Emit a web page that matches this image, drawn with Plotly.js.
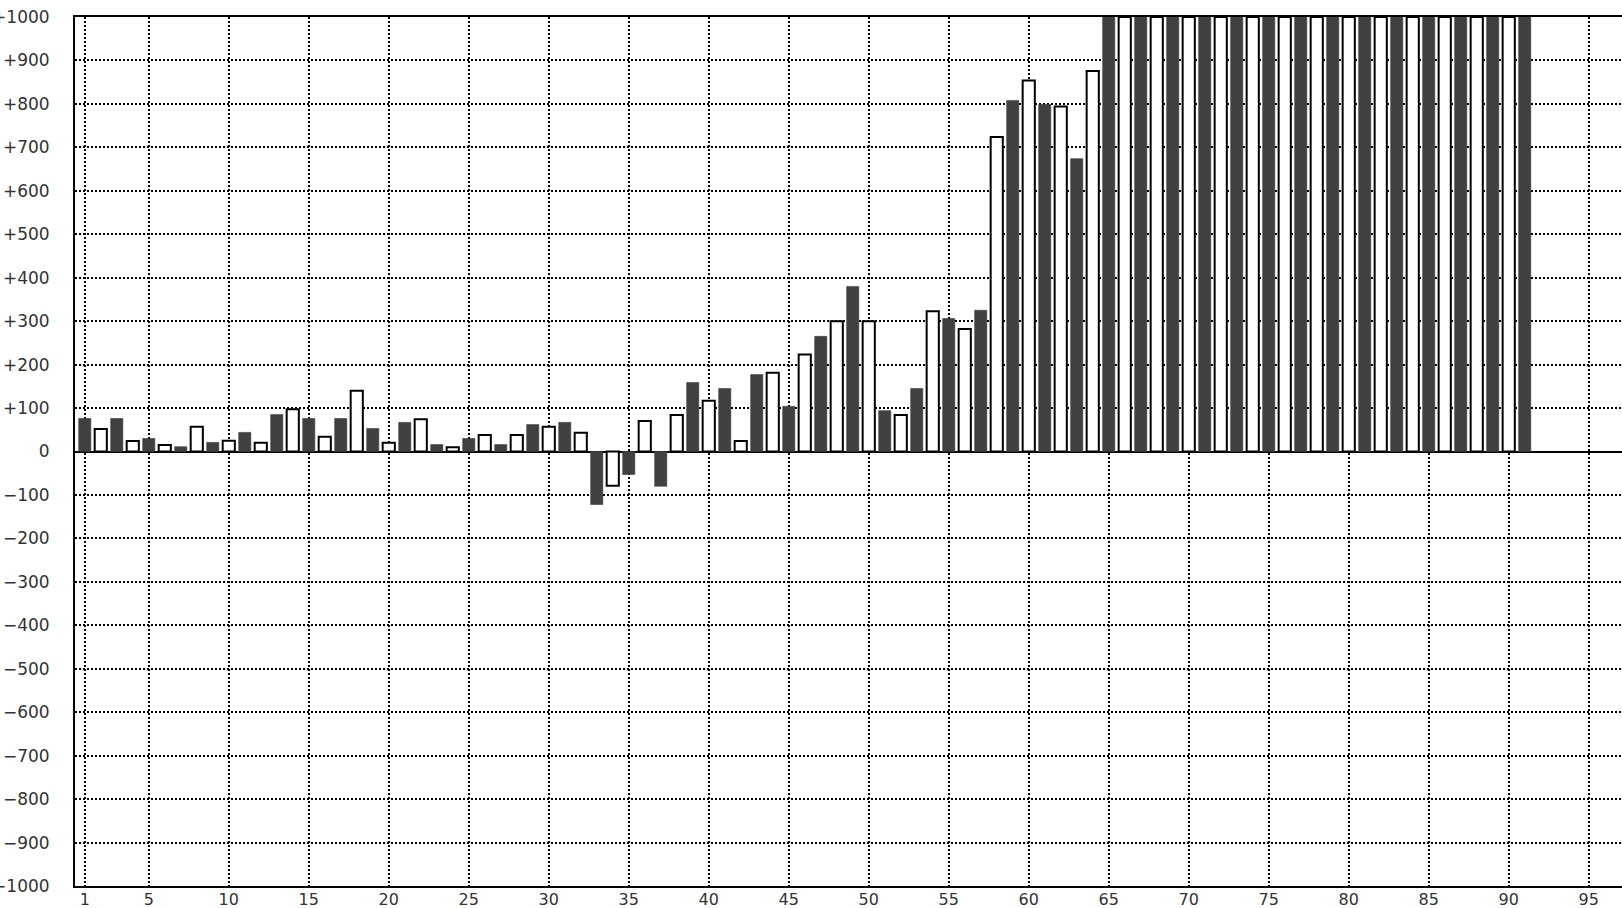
<!DOCTYPE html>
<html>
<head>
<meta charset="utf-8">
<script src="https://cdn.plot.ly/plotly-3.0.1.min.js"></script>
<style>
html,body{margin:0;padding:0;background:#fff;overflow:hidden;}
#chart{width:1622px;height:908px;}
</style>
</head>
<body>
<div id="chart"></div>
<script>
// Dark (filled) bars at odd positions
var xDark = [1,3,5,7,9,11,13,15,17,19,21,23,25,27,29,31,33,35,37,39,41,43,45,47,49,51,53,55,57,59,61,63,65,67,69,71,73,75,77,79,81,83,85,87,89,91];
var valsDark = [76,76,30,11,21,44,85,76,76,53,67,16,30,16,62,67,-122,-53,-80,159,145,177,104,265,380,94,145,306,325,808,799,674,1000,1000,1000,1000,1000,1000,1000,1000,1000,1000,1000,1000,1000,1000];

// White (outlined) bars at even positions
var xWhite = [2,4,6,8,10,12,14,16,18,20,22,24,26,28,30,32,34,36,38,40,42,44,46,48,50,52,54,56,58,60,62,64,66,68,70,72,74,76,78,80,82,84,86,88,90];
var valsWhite = [52,24,15,57,25,20,97,34,140,20,74,10,38,38,57,43,-79,70,84,117,24,181,223,300,300,84,323,282,724,854,794,876,1000,1000,1000,1000,1000,1000,1000,1000,1000,1000,1000,1000,1000];

var xTickVals = [1,5,10,15,20,25,30,35,40,45,50,55,60,65,70,75,80,85,90,95];
var xTickText = ["1","5","10","15","20","25","30","35","40","45","50","55","60","65","70","75","80","85","90","95"];
var yTickVals = [-1000,-900,-800,-700,-600,-500,-400,-300,-200,-100,0,100,200,300,400,500,600,700,800,900,1000];
var yTickText = ["\u22121000","\u2212900","\u2212800","\u2212700","\u2212600","\u2212500","\u2212400","\u2212300","\u2212200","\u2212100","0","+100","+200","+300","+400","+500","+600","+700","+800","+900","+1000"];

var traces = [
  {
    type: 'bar', x: xDark, y: valsDark, width: 0.76,
    marker: {color: '#404040', line: {color: '#404040', width: 0.6}},
    hoverinfo: 'x+y', showlegend: false
  },
  {
    type: 'bar', x: xWhite, y: valsWhite, width: 0.76,
    marker: {color: '#ffffff', line: {color: '#000000', width: 2}},
    hoverinfo: 'x+y', showlegend: false
  }
];

var layout = {
  width: 1622, height: 908,
  margin: {l: 75, r: 0, t: 17, b: 22, pad: 0},
  paper_bgcolor: '#ffffff', plot_bgcolor: '#ffffff',
  barmode: 'overlay',
  showlegend: false,
  font: {family: 'DejaVu Sans, sans-serif', size: 16, color: '#333333'},
  xaxis: {
    range: [0.39, 97.08], autorange: false,
    tickmode: 'array', tickvals: xTickVals, ticktext: xTickText,
    showgrid: true, gridcolor: '#000000', gridwidth: 2, griddash: '2px,2px',
    showline: true, linecolor: '#000000', linewidth: 2, mirror: true,
    zeroline: false, ticks: '', ticklabelstandoff: -2,
    tickfont: {family: 'DejaVu Sans, sans-serif', size: 16, color: '#333333'},
    automargin: false, fixedrange: true
  },
  yaxis: {
    range: [-1000, 1000], autorange: false,
    tickmode: 'array', tickvals: yTickVals, ticktext: yTickText,
    showgrid: true, gridcolor: '#000000', gridwidth: 2, griddash: '2px,2px',
    showline: true, linecolor: '#000000', linewidth: 2, mirror: false,
    zeroline: true, zerolinecolor: '#000000', zerolinewidth: 2,
    ticks: 'outside', ticklen: 20, tickcolor: 'rgba(0,0,0,0)',
    tickfont: {family: 'DejaVu Sans, sans-serif', size: 17, color: '#333333'},
    automargin: false, fixedrange: true
  }
};

Plotly.newPlot('chart', traces, layout, {displayModeBar: false, staticPlot: true});
</script>
</body>
</html>
